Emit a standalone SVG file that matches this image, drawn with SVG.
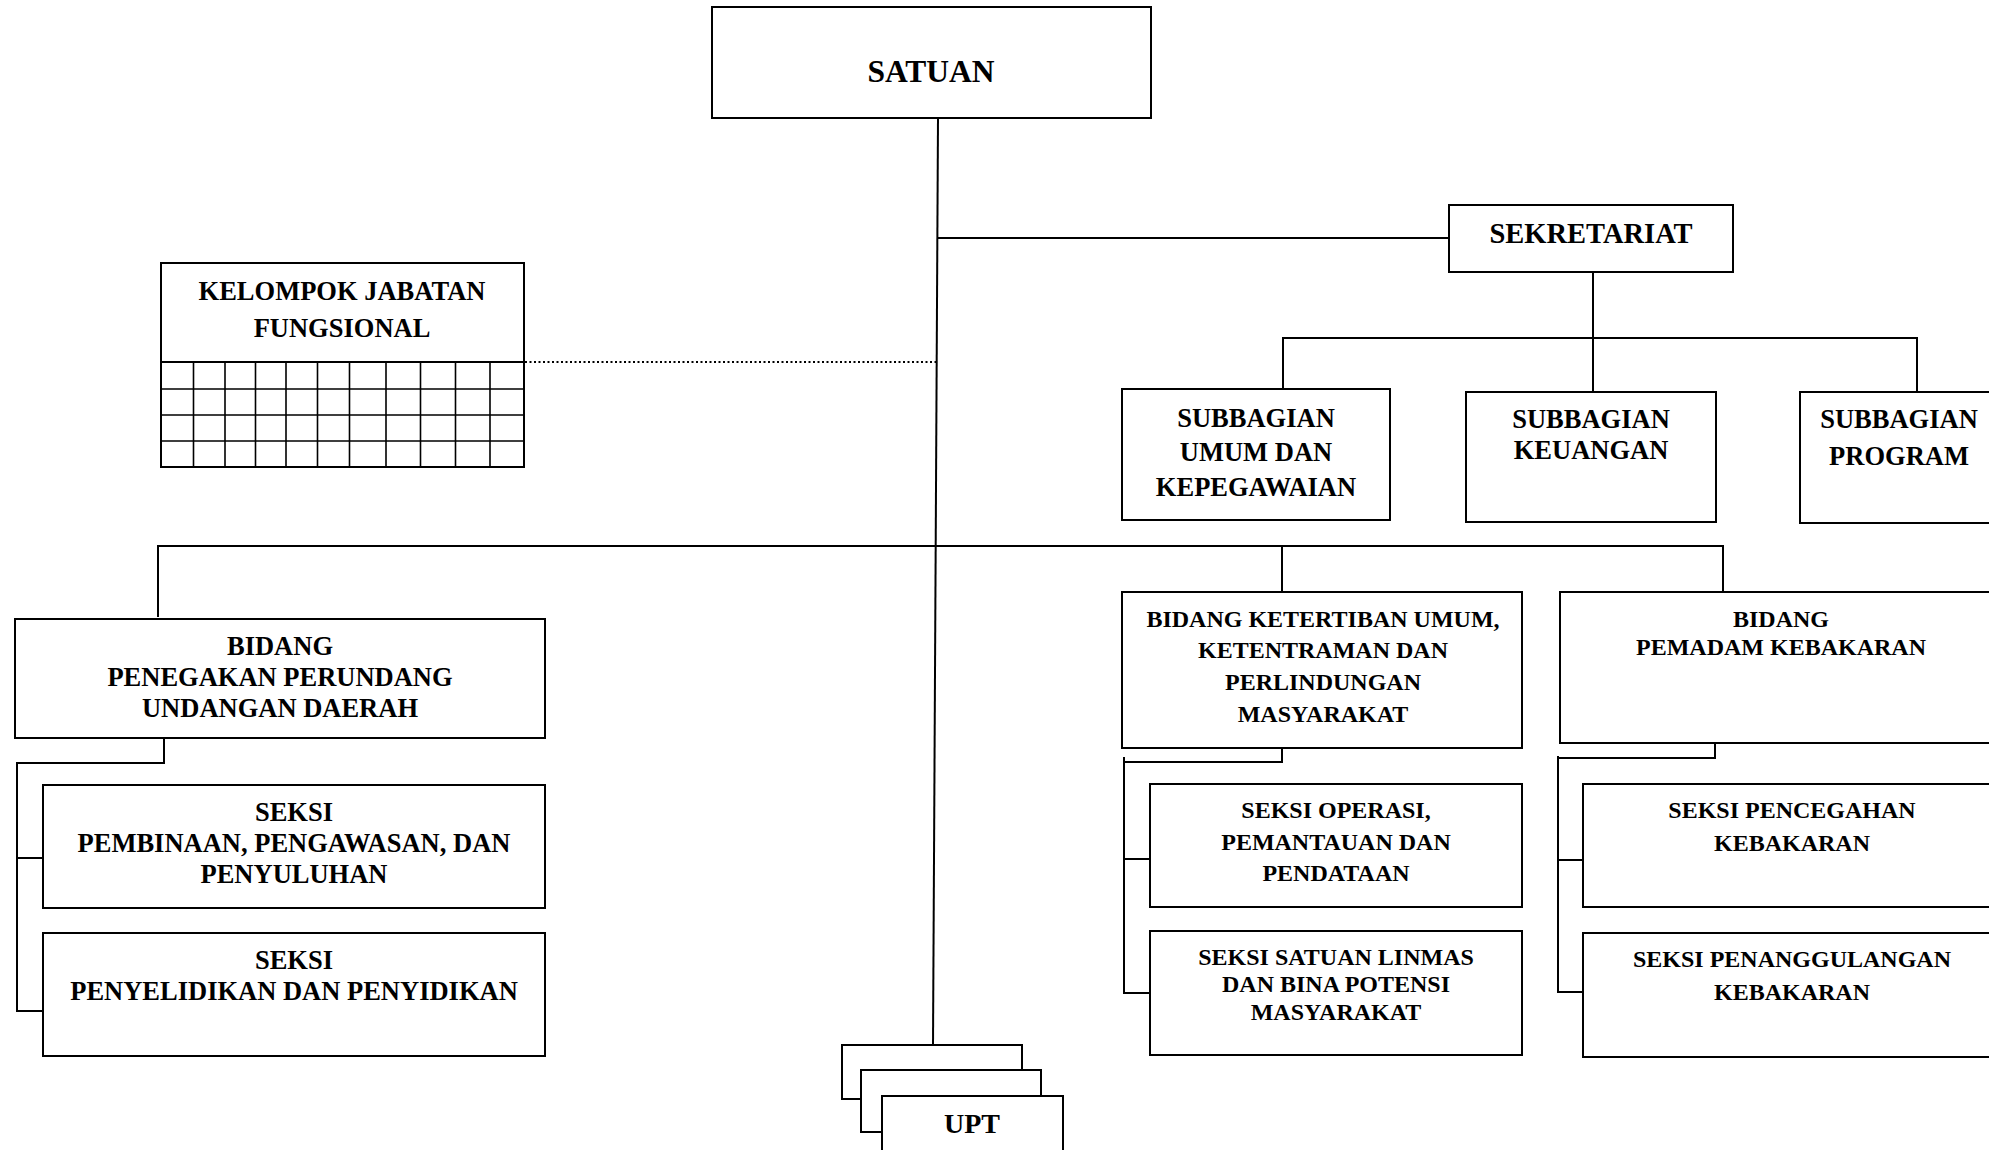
<svg xmlns="http://www.w3.org/2000/svg" width="1989" height="1150" viewBox="0 0 1989 1150">
<style>
.b{fill:#fff;stroke:#000;stroke-width:2}
.c{fill:none;stroke:#000;stroke-width:2}
.d{fill:none;stroke:#000;stroke-width:2;stroke-dasharray:2 2.5}
.g{fill:none;stroke:#000;stroke-width:1.6}
text{font-family:"Liberation Serif","Times New Roman",serif;font-weight:bold;text-anchor:middle;fill:#000}
.f27{font-size:26.5px}
.f24{font-size:24px}
</style>
<rect width="1989" height="1150" fill="#fff"/>
<g id="connectors">
<line class="c" x1="938" y1="118" x2="933" y2="1045"/>
<line class="c" x1="938" y1="238" x2="1449" y2="238"/>
<line class="d" x1="525" y1="362" x2="936" y2="362"/>
<line class="c" x1="1593" y1="272" x2="1593" y2="392"/>
<polyline class="c" points="1283,389 1283,338 1917,338 1917,392"/>
<polyline class="c" points="158,617 158,546 1723,546 1723,592"/>
<line class="c" x1="1282" y1="546" x2="1282" y2="592"/>
<polyline class="c" points="164,738 164,763 17,763 17,1011 43,1011"/>
<line class="c" x1="17" y1="858" x2="43" y2="858"/>
<polyline class="c" points="1282,748 1282,762 1124,762 1124,993 1150,993"/>
<line class="c" x1="1124" y1="757" x2="1124" y2="762"/>
<line class="c" x1="1124" y1="859" x2="1150" y2="859"/>
<polyline class="c" points="1715,743 1715,758 1558,758 1558,992 1583,992"/>
<line class="c" x1="1558" y1="756" x2="1558" y2="758"/>
<line class="c" x1="1558" y1="860" x2="1583" y2="860"/>
</g>
<g id="satuan">
<rect class="b" x="712" y="7" width="439" height="111"/>
<text x="931" y="82" style="font-size:31.5px">SATUAN</text>
</g>
<g id="sekretariat">
<rect class="b" x="1449" y="205" width="284" height="67"/>
<text x="1591" y="243" style="font-size:28.5px">SEKRETARIAT</text>
</g>
<g id="kelompok-jabatan-fungsional">
<rect class="b" x="161" y="263" width="363" height="204"/>
<line class="c" x1="161" y1="362" x2="524" y2="362"/>
<path class="g" d="M161 389H524M161 415H524M161 441H524M193.5 362V467M225 362V467M255.5 362V467M286 362V467M317.5 362V467M349.5 362V467M386 362V467M420.5 362V467M455.5 362V467M490 362V467"/>
<text class="f27" x="342" y="300">KELOMPOK JABATAN</text>
<text class="f27" x="342" y="337">FUNGSIONAL</text>
</g>
<g id="subbagian-umum">
<rect class="b" x="1122" y="389" width="268" height="131"/>
<text class="f27" x="1256" y="427">SUBBAGIAN</text>
<text class="f27" x="1256" y="461">UMUM DAN</text>
<text class="f27" x="1256" y="496">KEPEGAWAIAN</text>
</g>
<g id="subbagian-keuangan">
<rect class="b" x="1466" y="392" width="250" height="130"/>
<text class="f27" x="1591" y="428">SUBBAGIAN</text>
<text class="f27" x="1591" y="459">KEUANGAN</text>
</g>
<g id="subbagian-program">
<rect class="b" x="1800" y="392" width="200" height="131"/>
<text class="f27" x="1899" y="428">SUBBAGIAN</text>
<text class="f27" x="1899" y="465">PROGRAM</text>
</g>
<g id="bidang-penegakan">
<rect class="b" x="15" y="619" width="530" height="119"/>
<text class="f27" x="280" y="655">BIDANG</text>
<text class="f27" x="280" y="686">PENEGAKAN PERUNDANG</text>
<text class="f27" x="280" y="717">UNDANGAN DAERAH</text>
</g>
<g id="seksi-pembinaan">
<rect class="b" x="43" y="785" width="502" height="123"/>
<text class="f27" x="294" y="821">SEKSI</text>
<text class="f27" x="294" y="852">PEMBINAAN, PENGAWASAN, DAN</text>
<text class="f27" x="294" y="883">PENYULUHAN</text>
</g>
<g id="seksi-penyelidikan">
<rect class="b" x="43" y="933" width="502" height="123"/>
<text class="f27" x="294" y="969">SEKSI</text>
<text class="f27" x="294" y="1000">PENYELIDIKAN DAN PENYIDIKAN</text>
</g>
<g id="bidang-ketertiban">
<rect class="b" x="1122" y="592" width="400" height="156"/>
<text class="f24" x="1323" y="627">BIDANG KETERTIBAN UMUM,</text>
<text class="f24" x="1323" y="658">KETENTRAMAN DAN</text>
<text class="f24" x="1323" y="690">PERLINDUNGAN</text>
<text class="f24" x="1323" y="722">MASYARAKAT</text>
</g>
<g id="seksi-operasi">
<rect class="b" x="1150" y="784" width="372" height="123"/>
<text class="f24" x="1336" y="818">SEKSI OPERASI,</text>
<text class="f24" x="1336" y="850">PEMANTAUAN DAN</text>
<text class="f24" x="1336" y="881">PENDATAAN</text>
</g>
<g id="seksi-linmas">
<rect class="b" x="1150" y="931" width="372" height="124"/>
<text class="f24" x="1336" y="965">SEKSI SATUAN LINMAS</text>
<text class="f24" x="1336" y="992">DAN BINA POTENSI</text>
<text class="f24" x="1336" y="1020">MASYARAKAT</text>
</g>
<g id="bidang-pemadam">
<rect class="b" x="1560" y="592" width="442" height="151"/>
<text class="f24" x="1781" y="627">BIDANG</text>
<text class="f24" x="1781" y="655">PEMADAM KEBAKARAN</text>
</g>
<g id="seksi-pencegahan">
<rect class="b" x="1583" y="784" width="418" height="123"/>
<text class="f24" x="1792" y="818">SEKSI PENCEGAHAN</text>
<text class="f24" x="1792" y="851">KEBAKARAN</text>
</g>
<g id="seksi-penanggulangan">
<rect class="b" x="1583" y="933" width="418" height="124"/>
<text class="f24" x="1792" y="967">SEKSI PENANGGULANGAN</text>
<text class="f24" x="1792" y="1000">KEBAKARAN</text>
</g>
<g id="upt">
<rect class="b" x="842" y="1045" width="180" height="54"/>
<rect class="b" x="861" y="1070" width="180" height="62"/>
<rect class="b" x="882" y="1096" width="181" height="80"/>
<text x="972" y="1133" style="font-size:28px">UPT</text>
</g>
</svg>
